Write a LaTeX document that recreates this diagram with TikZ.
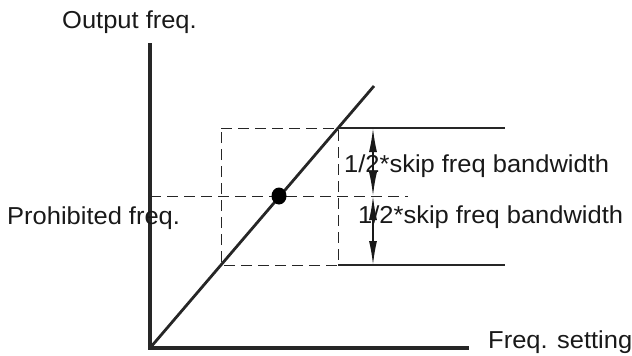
\documentclass[tikz,border=0pt]{standalone}
\usepackage{fontspec}
\setmainfont{Liberation Sans}
\usetikzlibrary{arrows.meta,shapes.geometric}
\begin{document}
\begin{tikzpicture}[x=1pt,y=-1pt,
  lbl/.style={font=\fontsize{24.5}{28}\selectfont, inner sep=0pt, anchor=base west, xscale=1.04, text=black!90},
  axisline/.style={line width=3.2pt, draw=black!85},
  diag/.style={line width=2.8pt, draw=black!85},
  dsh/.style={line width=1pt, draw=black!85, dash pattern=on 11pt off 6pt},
  thin/.style={line width=1.1pt, draw=black!85},
  dim/.style={line width=1.5pt, draw=black!90, {Latex[length=24pt,width=8pt]}-{Latex[length=24pt,width=8pt]}}
]
\useasboundingbox (0,0) rectangle (632,356);
% coordinates
\coordinate (O) at (150,348);
\coordinate (Ytop) at (150,45);
\coordinate (Xend) at (467,348);
\coordinate (Lend) at (374,86);
\coordinate (RL1) at (221,128);
\coordinate (RR1) at (338,128);
\coordinate (RL2) at (221,265);
\coordinate (RR2) at (338,265);
\coordinate (HL) at (150,196);
\coordinate (HR) at (408,196);
\coordinate (T1) at (505,128);
\coordinate (T2) at (505,265);
\coordinate (A1) at (373,128);
\coordinate (A2) at (373,196);
\coordinate (A3) at (373,265);
% dashed lines
\draw[dsh] (RL1) -- (RR1) -- (RR2) -- (RL2) -- cycle;
\draw[dsh] (HL) -- (HR);
% solid reference lines
\draw[thin] (RR1) -- (T1);
\draw[thin] (RR2) -- (T2);
% axes
\draw[axisline, line cap=rect] (Ytop) -- (O) -- (Xend);
% characteristic line
\draw[diag] (O) -- (Lend);
\node[ellipse, fill=black, minimum width=15pt, minimum height=17pt, inner sep=0pt] (dot) at (279,196) {};
% dimension arrows
\draw[dim] (A1) -- (A2);
\draw[dim] (A2) -- (A3);
% labels
\node[lbl] (out) at (62,28) {Output freq.};
\node[lbl] (proh) at (7,224) {Prohibited freq.};
\node[lbl] (fs) at (488,348) {Freq. setting};
\node[lbl] (sk1) at (344,172.5) {1/2*skip freq bandwidth};
\node[lbl] (sk2) at (358,223) {1/2*skip freq bandwidth};
\end{tikzpicture}
\end{document}
